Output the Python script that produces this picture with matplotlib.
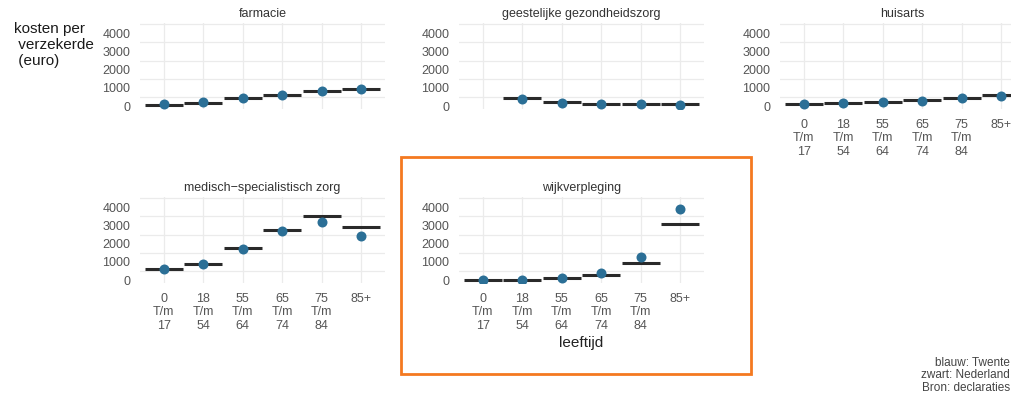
import numpy as np
import matplotlib.pyplot as plt
from matplotlib.patches import Rectangle

plt.rcParams['font.family'] = ['Liberation Sans', 'DejaVu Sans']

# leeftijdsgroepen
leeftijd = ['0\nT/m\n17', '18\nT/m\n54', '55\nT/m\n64', '65\nT/m\n74', '75\nT/m\n84', '85+']

# kosten per verzekerde (euro): blauw = Twente, zwart = Nederland
farmacie_twente = [100, 230, 450, 620, 840, 960]
farmacie_nl = [80, 200, 430, 600, 820, 950]

ggz_twente = [np.nan, 380, 200, 130, 100, 90]
ggz_nl = [np.nan, 430, 230, 150, 110, 100]

huisarts_twente = [130, 160, 220, 300, 450, 580]
huisarts_nl = [120, 170, 240, 330, 460, 600]

msz_twente = [640, 910, 1700, 2680, 3210, 2420]
msz_nl = [640, 890, 1790, 2770, 3490, 2890]

wijk_twente = [20, 20, 150, 380, 1280, 3900]
wijk_nl = [20, 20, 110, 260, 940, 3090]

panels = [
    ('farmacie', farmacie_twente, farmacie_nl, False),
    ('geestelijke gezondheidszorg', ggz_twente, ggz_nl, False),
    ('huisarts', huisarts_twente, huisarts_nl, True),
    ('medisch\u2212specialistisch zorg', msz_twente, msz_nl, True),
    ('wijkverpleging', wijk_twente, wijk_nl, True),
]

W, H = 1012, 395
fig = plt.figure(figsize=(W / 100, H / 100), dpi=100)

# axes posities in pixels (links, boven, breedte, hoogte)
pos = [(140, 23, 245, 86), (459, 23, 245, 86), (780, 23, 245, 86),
       (140, 197, 245, 86), (459, 197, 245, 86)]

BLAUW = '#2b6f96'
ZWART = '#2a2a2a'
GRID = '#ebebeb'
TICK = '#555555'

x = np.arange(len(leeftijd))
for (titel, tw, nl, xlabels), (l, t, w, h) in zip(panels, pos):
    ax = fig.add_axes([l / W, 1 - (t + h) / H, w / W, h / H])
    tw = np.array(tw, dtype=float)
    nl = np.array(nl, dtype=float)
    ok = ~np.isnan(nl)
    ax.hlines(nl[ok], x[ok] - 0.48, x[ok] + 0.48, color=ZWART, lw=2.2, zorder=2)
    ok = ~np.isnan(tw)
    ax.plot(x[ok], tw[ok], 'o', color=BLAUW, ms=7.2, zorder=3, mec='none')

    ax.set_xlim(-0.6, 5.6)
    ax.set_ylim(-150, 4550)
    ax.set_yticks([0, 1000, 2000, 3000, 4000])
    ax.set_yticks([500, 1500, 2500, 3500, 4500], minor=True)
    ax.set_xticks(x)
    if xlabels:
        ax.set_xticklabels(leeftijd, linespacing=1.17)
    else:
        ax.set_xticklabels([])
    ax.grid(False)
    ax.grid(True, which='minor', axis='y', color=GRID, lw=0.9)
    ax.grid(True, which='major', axis='x', color=GRID, lw=0.9)
    ax.set_axisbelow(True)
    ax.tick_params(which='both', length=0, labelsize=9, colors=TICK, pad=7)
    for s in ax.spines.values():
        s.set_visible(False)
    ax.set_title(titel, fontsize=9, color='#333333', pad=4)
    if titel == 'wijkverpleging':
        ax.set_xlabel('leeftijd', fontsize=11, color='#222222', labelpad=3)

fig.text(14 / W, 1 - 22 / H, 'kosten per\n verzekerde\n (euro)', fontsize=11,
         color='#1a1a1a', va='top', ha='left', linespacing=1.2)

fig.text(1010 / W, 1 - 357 / H, 'blauw: Twente\nzwart: Nederland\nBron: declaraties',
         fontsize=8.5, color='#444444', va='top', ha='right', linespacing=1.05)

# oranje kader rond wijkverpleging
fig.patches.append(Rectangle((401 / W, 1 - 374 / H), 350 / W, 217 / H,
                             transform=fig.transFigure, fill=False,
                             edgecolor='#f47920', lw=2))

fig.savefig('out.png', dpi=100, facecolor='white')
